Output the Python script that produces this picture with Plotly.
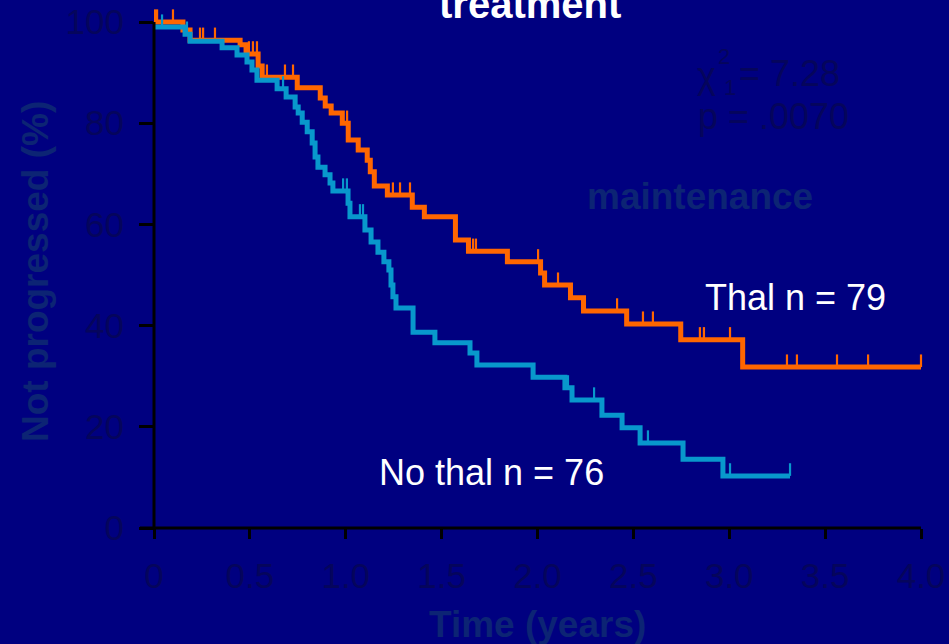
import plotly.graph_objects as go

# ---------------- data ----------------
# Thal arm: step times (years) and survival (%) after each step
thal_t = [0, 0.151, 0.188, 0.449, 0.480, 0.543, 0.564, 0.747, 0.867, 0.893, 0.924,
          0.982, 1.013, 1.065, 1.112, 1.128, 1.149, 1.217, 1.347, 1.410, 1.572,
          1.640, 1.843, 2.016, 2.037, 2.172, 2.240, 2.465, 2.747, 3.070]
thal_s = [100, 98.4, 96.4, 95.5, 93.7, 91.3, 89.1, 87.0, 85.0, 83.4, 82.0,
          80.0, 76.7, 74.7, 72.7, 70.4, 67.6, 65.8, 63.4, 61.5, 56.9,
          54.7, 52.6, 50.4, 48.0, 45.5, 42.9, 40.3, 37.2, 31.8]
thal_end = 4.0
thal_censored = [0.005, 0.016, 0.099, 0.240, 0.256, 0.318, 0.495, 0.516, 0.537, 0.589,
                 0.683, 0.725, 1.007, 1.246, 1.283, 1.335, 1.664, 1.679, 2.003, 2.107,
                 2.415, 2.550, 2.602, 2.847, 2.868, 3.004, 3.301, 3.353, 3.562, 3.724, 4.0]

# No thal arm
nothal_t = [0, 0.162, 0.188, 0.355, 0.433, 0.485, 0.511, 0.537, 0.642, 0.689, 0.736,
            0.752, 0.773, 0.799, 0.825, 0.840, 0.855, 0.892, 0.918, 0.933, 1.012,
            1.022, 1.100, 1.132, 1.168, 1.199, 1.225, 1.236, 1.246, 1.262, 1.351,
            1.465, 1.648, 1.684, 1.977, 2.143, 2.180, 2.336, 2.441, 2.535, 2.759, 2.967]
nothal_s = [99.0, 97.6, 96.2, 94.9, 93.5, 92.1, 90.5, 88.5, 86.8, 85.2, 83.2,
            82.0, 80.2, 78.3, 76.1, 73.3, 71.3, 69.8, 68.2, 66.6, 64.2,
            61.5, 58.9, 56.5, 54.5, 52.6, 51.0, 48.0, 45.7, 43.5, 38.7,
            36.6, 34.6, 32.2, 29.8, 27.7, 25.3, 22.3, 19.8, 16.8, 13.6, 10.3]
nothal_end = 3.317
nothal_censored = [0.042, 0.172, 0.673, 0.986, 1.006, 1.074, 1.090, 2.159, 2.295,
                   2.576, 3.004, 3.317]

x_tickvals = [0, 0.5, 1.0, 1.5, 2.0, 2.5, 3.0, 3.5, 4.0]
x_ticktext = ["0", "0.5", "1.0", "1.5", "2.0", "2.5", "3.0", "3.5", "4.0"]
y_tickvals = [0, 20, 40, 60, 80, 100]
y_ticktext = ["0", "20", "40", "60", "80", "100"]

# ---------------- styling ----------------
BG = "#000080"
ORANGE = "#ff6600"
CYAN = "#0898cc"
DARK_TXT = "#05055c"
TITLE_TXT = "#0c2474"
FONT = "Liberation Sans, Arial, sans-serif"
TICK_H = 2.5

W, H = 949, 644
ML, MR, MT, MB = 154, 13, 0, 116
PW, PH = W - ML - MR, H - MT - MB
PX_PER_YEAR = 191.75
PX_PER_PCT = 5.06
x_max = PW / PX_PER_YEAR
y_max = PH / PX_PER_PCT


def X(px):
    return (px - ML) / PW


def Y(py):
    return (MT + PH - py) / PH


def level_at(ts, ss, c):
    lv = ss[0]
    for t, s in zip(ts, ss):
        if t <= c + 1e-9:
            lv = s
    return lv


def cens_segments(ts, ss, cens):
    xs, ys = [], []
    for c in cens:
        lv = level_at(ts, ss, c)
        xs += [c, c, None]
        ys += [lv, lv + TICK_H, None]
    return xs, ys


fig = go.Figure()

for ts, ss, end, cens, col, name in [
    (thal_t, thal_s, thal_end, thal_censored, ORANGE, "Thal"),
    (nothal_t, nothal_s, nothal_end, nothal_censored, CYAN, "No thal"),
]:
    fig.add_trace(go.Scatter(
        x=ts + [end], y=ss + [ss[-1]], mode="lines", line_shape="hv",
        line=dict(color=col, width=5), name=name, showlegend=False,
        hoverinfo="skip"))
    cx, cy = cens_segments(ts, ss, cens)
    fig.add_trace(go.Scatter(
        x=cx, y=cy, mode="lines", line=dict(color=col, width=2.2),
        showlegend=False, hoverinfo="skip"))

ann = []


def add_text(text, px, py, size, color, bold=False, xanchor="center", angle=0):
    ann.append(dict(
        text=("<b>%s</b>" % text) if bold else text,
        x=X(px), y=Y(py), xref="paper", yref="paper",
        xanchor=xanchor, yanchor="middle", showarrow=False, textangle=angle,
        font=dict(family=FONT, size=size, color=color)))


add_text("treatment", 530, 4, 40, "white", bold=True)
add_text("χ", 695, 76, 36, DARK_TXT, xanchor="left")
add_text("2", 716, 56, 22, DARK_TXT, xanchor="left")
add_text("1", 722, 88, 22, DARK_TXT, xanchor="left")
add_text("= 7.28", 737, 73, 36, DARK_TXT, xanchor="left")
add_text("p = .0070", 696, 116, 36, DARK_TXT, xanchor="left")
add_text("maintenance", 700, 197, 37, TITLE_TXT, bold=True)
add_text("Thal n = 79", 795, 297, 36, "white")
add_text("No thal n = 76", 491, 472, 36, "white")
add_text("Time (years)", 537, 624, 37, TITLE_TXT, bold=True)
add_text("Not progressed (%)", 35, 272, 37, TITLE_TXT, bold=True, angle=-90)

shapes = [
    dict(type="line", xref="paper", yref="paper", x0=X(140), x1=X(921),
         y0=Y(528), y1=Y(528), line=dict(color="black", width=3), layer="above"),
    dict(type="line", xref="paper", yref="paper", x0=X(154), x1=X(154),
         y0=Y(528), y1=Y(528 - 100 * PX_PER_PCT), line=dict(color="black", width=3),
         layer="above"),
]

fig.update_layout(
    width=W, height=H,
    margin=dict(l=ML, r=MR, t=MT, b=MB, pad=0),
    paper_bgcolor=BG, plot_bgcolor=BG,
    showlegend=False,
    annotations=ann, shapes=shapes,
    xaxis=dict(range=[0, x_max], tickvals=x_tickvals, ticktext=x_ticktext,
               showgrid=False, zeroline=False, showline=False,
               ticks="outside", ticklen=10, tickwidth=3, tickcolor="black",
               ticklabelstandoff=7,
               tickfont=dict(family=FONT, size=35, color=DARK_TXT)),
    yaxis=dict(range=[0, y_max], tickvals=y_tickvals, ticktext=y_ticktext,
               showgrid=False, zeroline=False, showline=False,
               ticks="outside", ticklen=14, tickwidth=3, tickcolor="black",
               ticklabelstandoff=8,
               tickfont=dict(family=FONT, size=35, color=DARK_TXT)),
)

fig.write_html("out.html")
